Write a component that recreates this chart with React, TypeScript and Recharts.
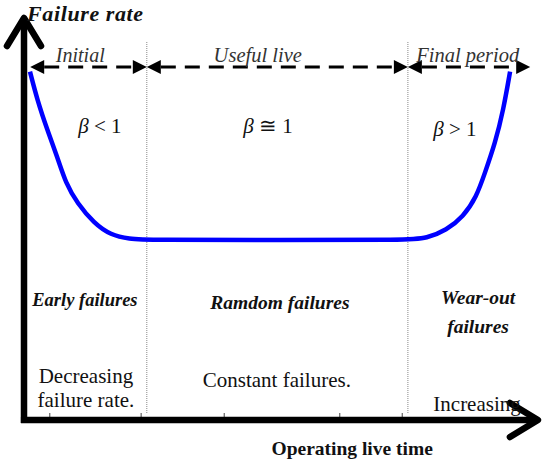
import { LineChart, Line, XAxis, YAxis, ReferenceLine, ReferenceDot } from "recharts";

// bathtub curve, x = operating time (0-100), y = failure rate (0-100)
const timePoints = [1.16, 2.58, 4.52, 6.45, 8.08, 10.33, 13.57, 16.8, 20.5, 23.8, 50, 74.4, 78.0, 81.9, 85.1, 87.7, 89.3, 91.3, 92.9, 94.2];
const failureRate = [87.1, 80, 72.5, 65.8, 59.2, 54.2, 49.2, 46.25, 45.25, 45, 45, 45, 45.4, 47.5, 50.8, 55.8, 61.7, 69.2, 77.5, 87.1];

const periodBounds = [1.2, 23.8, 74.4, 98.1];
const periodLevel = 88.25;
const tickPositions = [5.0, 22.7, 38.8, 61.2, 73.3];

const data = timePoints.map((t, i) => ({ t, rate: failureRate[i] }));

const SERIF = "'Liberation Serif', 'DejaVu Serif', serif";

interface Note {
  x: number;
  y: number;
  text: string;
  size: number;
  bold?: boolean;
  italic?: boolean;
  color?: string;
  anchor?: "start" | "middle" | "end";
  spacing?: number;
}

const notes: Note[] = [
  { x: 0.6, y: 99.75, text: "Failure rate", size: 22, bold: true, italic: true, anchor: "start", spacing: 0.6 },
  { x: 10.9, y: 89.5, text: "Initial", size: 20, italic: true, color: "#333" },
  { x: 45.3, y: 89.5, text: "Useful live", size: 20.5, italic: true, color: "#333" },
  { x: 86.0, y: 89.5, text: "Final period", size: 20.5, italic: true, color: "#333" },
  { x: 14.7, y: 71.75, text: "β < 1", size: 21 },
  { x: 47.3, y: 71.75, text: "β ≅ 1", size: 21 },
  { x: 83.5, y: 71.0, text: "β > 1", size: 21 },
  { x: 11.8, y: 28.5, text: "Early failures", size: 18.5, bold: true, italic: true },
  { x: 49.6, y: 27.75, text: "Ramdom failures", size: 19.5, bold: true, italic: true },
  { x: 88.0, y: 29, text: "Wear-out", size: 19.5, bold: true, italic: true },
  { x: 88.0, y: 21.75, text: "failures", size: 19.5, bold: true, italic: true },
  { x: 12.0, y: 9.25, text: "Decreasing", size: 21 },
  { x: 12.0, y: 3.25, text: "failure rate.", size: 21 },
  { x: 49.0, y: 8.25, text: "Constant failures.", size: 21 },
  { x: 87.8, y: 2.25, text: "Increasing", size: 21 },
  { x: 63.6, y: -8.75, text: "Operating live time", size: 19.5, bold: true },
];

function textShape(n: Note) {
  return (p: any) => {
    const beta = n.text.startsWith("β");
    return (
      <text
        x={p.cx}
        y={p.cy}
        textAnchor={n.anchor ?? "middle"}
        fontFamily={SERIF}
        fontSize={n.size}
        fontWeight={n.bold ? "bold" : "normal"}
        fontStyle={n.italic ? "italic" : "normal"}
        letterSpacing={n.spacing ?? 0}
        fill={n.color ?? "#111"}
      >
        {beta ? (
          <>
            <tspan fontStyle="italic">β</tspan>
            {n.text.slice(1)}
          </>
        ) : (
          n.text
        )}
      </text>
    );
  };
}

// dashed line with filled heads pointing outwards at both ends
const DoubleArrow = (p: any) => {
  const { x1, y1, x2, y2 } = p;
  const h = 14;
  const w = 7;
  return (
    <g>
      <line x1={x1 + h} y1={y1} x2={x2 - h} y2={y2} stroke="#000" strokeWidth={3} strokeDasharray="15 9" />
      <polygon points={`${x1},${y1} ${x1 + h},${y1 - w} ${x1 + h},${y1 + w}`} fill="#000" />
      <polygon points={`${x2},${y2} ${x2 - h},${y2 - w} ${x2 - h},${y2 + w}`} fill="#000" />
    </g>
  );
};

// thick axis with an open chevron at the end (x2, y2)
const AxisArrow = (p: any) => {
  const { x1, y1, x2, y2 } = p;
  const vertical = Math.abs(x1 - x2) < 1;
  const back = 28;
  const spread = 17;
  const wings = vertical
    ? `${x2 - spread},${y2 + back} ${x2},${y2} ${x2 + spread},${y2 + back}`
    : `${x2 - back},${y2 - spread} ${x2},${y2} ${x2 - back},${y2 + spread}`;
  return (
    <g>
      <line x1={x1} y1={y1} x2={x2} y2={y2} stroke="#000" strokeWidth={6.5} />
      <polyline points={wings} fill="none" stroke="#000" strokeWidth={6.5} strokeLinecap="round" strokeLinejoin="round" />
    </g>
  );
};

const TickMark = (p: any) => <line x1={p.x1} y1={p.y1} x2={p.x2} y2={p.y2} stroke="#444" strokeWidth={1} />;

export default function App() {
  return (
    <div style={{ position: "absolute", left: 0, top: 0, background: "#fff" }}>
      <LineChart width={543} height={464} data={data} margin={{ top: 20, right: 3, bottom: 44, left: 24 }}>
        <XAxis dataKey="t" type="number" domain={[0, 100]} hide />
        <YAxis type="number" domain={[0, 100]} hide />

        {periodBounds.slice(1, 3).map((b) => (
          <ReferenceLine
            key={`div-${b}`}
            ifOverflow="visible"
            segment={[{ x: b, y: 94.5 }, { x: b, y: 1.75 }]}
            stroke="#888"
            strokeWidth={1}
            strokeDasharray="1 1"
          />
        ))}

        {tickPositions.map((t) => (
          <ReferenceLine key={`tick-${t}`} ifOverflow="visible" segment={[{ x: t, y: 1.75 }, { x: t, y: 0.5 }]} shape={TickMark} />
        ))}

        {periodBounds.slice(0, 3).map((b, i) => (
          <ReferenceLine
            key={`period-${i}`}
            ifOverflow="visible"
            segment={[{ x: b, y: periodLevel }, { x: periodBounds[i + 1], y: periodLevel }]}
            shape={DoubleArrow}
          />
        ))}

        <Line
          type="basis"
          dataKey="rate"
          stroke="#0000ff"
          strokeWidth={4.5}
          dot={false}
          activeDot={false}
          isAnimationActive={false}
        />

        <ReferenceLine ifOverflow="visible" segment={[{ x: 0, y: -0.75 }, { x: 0, y: 100.5 }]} shape={AxisArrow} />
        <ReferenceLine ifOverflow="visible" segment={[{ x: -0.6, y: 0 }, { x: 99.6, y: 0 }]} shape={AxisArrow} />

        {notes.map((n, i) => (
          <ReferenceDot key={`note-${i}`} x={n.x} y={n.y} r={0} ifOverflow="visible" shape={textShape(n)} />
        ))}
      </LineChart>
    </div>
  );
}
